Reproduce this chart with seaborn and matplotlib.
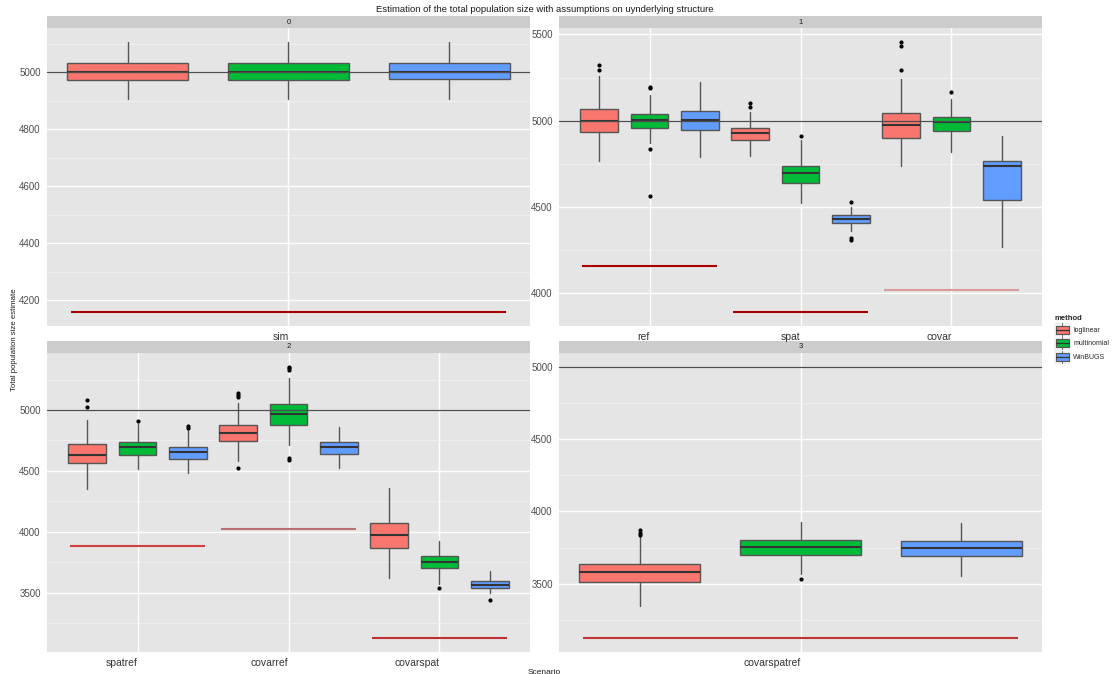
import matplotlib
matplotlib.use("Agg")
import matplotlib.pyplot as plt
import seaborn as sns
from matplotlib.patches import Rectangle, Patch
from matplotlib.lines import Line2D
from matplotlib.legend_handler import HandlerBase
from matplotlib.ticker import MultipleLocator, AutoMinorLocator

# ----------- data -----------
methods = ["loglinear", "multinomial", "WinBUGS"]
method_colors = ["#F8766D", "#00BA38", "#619CFF"]

scenarios = ["sim", "ref", "spat", "covar", "spatref", "covarref", "covarspat", "covarspatref"]
scenario_facet = [0, 1, 1, 1, 2, 2, 2, 3]

# one row per scenario, one column per method
whisker_low = [[4906, 4907, 4907], [4766, 4871, 4786], [4797, 4521, 4359], [4737, 4818, 4266],
               [4353, 4517, 4486], [4578, 4715, 4528], [3620, 3571, 3500], [3348, 3571, 3555]]
q1 = [[4972, 4972, 4976], [4932, 4958, 4944], [4890, 4635, 4403], [4900, 4940, 4541],
      [4561, 4630, 4597], [4745, 4879, 4641], [3864, 3700, 3538], [3516, 3698, 3696]]
median = [[4999, 5000, 5000], [5000, 5002, 5002], [4927, 4697, 4429], [4973, 4990, 4734],
          [4627, 4693, 4655], [4808, 4970, 4696], [3971, 3755, 3566], [3585, 3758, 3749]]
q3 = [[5031, 5033, 5033], [5066, 5039, 5056], [4958, 4737, 4452], [5044, 5023, 4768],
      [4717, 4735, 4699], [4879, 5052, 4734], [4070, 3801, 3596], [3636, 3804, 3793]]
whisker_high = [[5105, 5107, 5107], [5261, 5149, 5222], [5050, 4890, 4500], [5241, 5125, 4911],
                [4918, 4887, 4840], [5058, 5261, 4857], [4361, 3922, 3675], [3832, 3926, 3919]]
outliers = [
    [[], [], []],
    [[5324, 5293], [5195, 5187, 4836, 4562], []],
    [[5100, 5081], [4911], [4527, 4320, 4309]],
    [[5459, 5431, 5295], [5164], []],
    [[5080, 5027], [4910], [4873, 4856]],
    [[5140, 5127, 5110, 4525], [5357, 5343, 5325, 4602, 4591], []],
    [[], [3535], [3439]],
    [[3869, 3850, 3838], [3537], []],
]

# red reference segment per scenario
ref_value = [4158, 4156, 3886, 4019, 3886, 4023, 3124, 3124]
ref_color = ["#A80000", "#AA0000", "#A80000", "#D89A9A", "#D04040", "#B87070", "#C03030", "#C03434"]
true_size = 5000

# ----------- plotting -----------
sns.set_theme(style="darkgrid", rc={"axes.facecolor": "#E5E5E5", "grid.color": "white"})
plt.rcParams["font.family"] = ["Liberation Sans", "DejaVu Sans"]

W, H = 1115, 674
fig = plt.figure(figsize=(W / 100, H / 100), dpi=100)


def px(x0, y0, x1, y1):
    return [x0 / W, 1 - y1 / H, (x1 - x0) / W, (y1 - y0) / H]


panel_boxes = {0: (47, 28, 530, 326), 1: (559, 28, 1042, 326),
               2: (47, 353, 530, 652), 3: (559, 353, 1042, 652)}
edge = "#555555"

# facet strips first, so that tick labels of the upper panels stay on top
for f, (x0, y0, x1, y1) in panel_boxes.items():
    sax = fig.add_axes(px(x0, y0 - 12, x1, y0))
    sax.set_facecolor("#CCCCCC")
    sax.set_xticks([])
    sax.set_yticks([])
    sax.grid(False)
    for sp in sax.spines.values():
        sp.set_visible(False)
    sax.text(0.5, 0.5, str(f), ha="center", va="center", fontsize=5.5, color="#1A1A1A",
             transform=sax.transAxes)

for f, (x0, y0, x1, y1) in panel_boxes.items():
    ax = fig.add_axes(px(x0, y0, x1, y1))
    idx = [i for i, fc in enumerate(scenario_facet) if fc == f]
    n = len(idx)
    s = 1.2 if n == 1 else 1.0
    vals = [true_size]
    for j, i in enumerate(idx):
        pos = j + 1
        for m in range(3):
            st = dict(whislo=whisker_low[i][m], q1=q1[i][m], med=median[i][m], q3=q3[i][m],
                      whishi=whisker_high[i][m], fliers=outliers[i][m])
            vals += [st["whislo"], st["whishi"]] + list(st["fliers"])
            ax.bxp([st], positions=[pos + (m - 1) * s / 3], widths=[0.25 * s],
                   patch_artist=True, showcaps=False, manage_ticks=False,
                   boxprops=dict(facecolor=method_colors[m], edgecolor=edge, linewidth=1.0),
                   medianprops=dict(color="#333333", linewidth=1.5),
                   whiskerprops=dict(color=edge, linewidth=1.0),
                   flierprops=dict(marker="o", markerfacecolor="black", markeredgecolor="black",
                                   markersize=2.0, linestyle="none"))
        ax.hlines(ref_value[i], pos - 0.45 * s, pos + 0.45 * s, color=ref_color[i], lw=1.5, zorder=4)
        vals.append(ref_value[i])
    ax.axhline(true_size, color="#4D4D4D", lw=0.9, zorder=3.5)

    lo, hi = min(vals), max(vals)
    pad = 0.05 * (hi - lo)
    ax.set_ylim(lo - pad, hi + pad)
    ax.set_xlim(0.4, n + 0.6)
    ax.yaxis.set_major_locator(MultipleLocator(200 if f == 0 else 500))
    ax.yaxis.set_minor_locator(AutoMinorLocator(2))
    ax.set_xticks(range(1, n + 1))
    ax.set_xticklabels([scenarios[i] for i in idx], ha="right", fontsize=7.5, color="#333333")
    for lab in ax.get_yticklabels():
        lab.set_fontsize(7)
        lab.set_color("#4D4D4D")
    ax.grid(which="major", color="white", lw=1.0)
    ax.grid(which="minor", axis="y", color="#F2F2F2", lw=0.5)
    ax.grid(which="major", axis="x", color="white", lw=1.0)
    ax.tick_params(axis="both", which="major", length=3, width=0.6, color="#4D4D4D", pad=1.5)
    ax.tick_params(axis="both", which="minor", length=0)
    for sp in ax.spines.values():
        sp.set_visible(False)


class BoxKey(HandlerBase):
    def create_artists(self, legend, orig_handle, xdescent, ydescent, width, height, fontsize, trans):
        x0, y0 = -xdescent, -ydescent
        cx = x0 + width / 2
        bg = Rectangle((x0, y0), width, height, facecolor="#F2F2F2", edgecolor="none", transform=trans)
        w1 = Line2D([cx, cx], [y0 + height * 0.04, y0 + height * 0.2], color=edge, lw=0.6, transform=trans)
        w2 = Line2D([cx, cx], [y0 + height * 0.8, y0 + height * 0.96], color=edge, lw=0.6, transform=trans)
        box = Rectangle((x0 + width * 0.08, y0 + height * 0.2), width * 0.84, height * 0.6,
                        facecolor=orig_handle.get_facecolor(), edgecolor=edge, lw=0.8, transform=trans)
        med = Line2D([x0 + width * 0.08, x0 + width * 0.92], [y0 + height / 2] * 2,
                     color="#333333", lw=0.9, transform=trans)
        return [bg, w1, w2, box, med]


handles = [Patch(facecolor=c) for c in method_colors]
leg = fig.legend(handles, methods, handler_map={Patch: BoxKey()}, title="method",
                 loc="upper left", bbox_to_anchor=(1051 / W, 1 - 312 / H), frameon=False,
                 fontsize=5, title_fontsize=5.5, handlelength=2.3, handleheight=2.6,
                 labelspacing=0.05, handletextpad=0.4, borderpad=0, alignment="left")
leg.get_title().set_fontweight("bold")

fig.text(544.5 / W, 1 - 9 / H, "Estimation of the total population size with assumptions on uynderlying structure",
         ha="center", va="center", fontsize=6.8, color="#1A1A1A")
fig.text(544.5 / W, 1 - 672 / H, "Scenario", ha="center", va="center", fontsize=6, color="#1A1A1A")
fig.text(15 / W, 1 - 340 / H, "Total population size estimate", rotation=90, ha="center", va="center",
         fontsize=5.6, color="#1A1A1A")

fig.savefig("out.png", dpi=100)
